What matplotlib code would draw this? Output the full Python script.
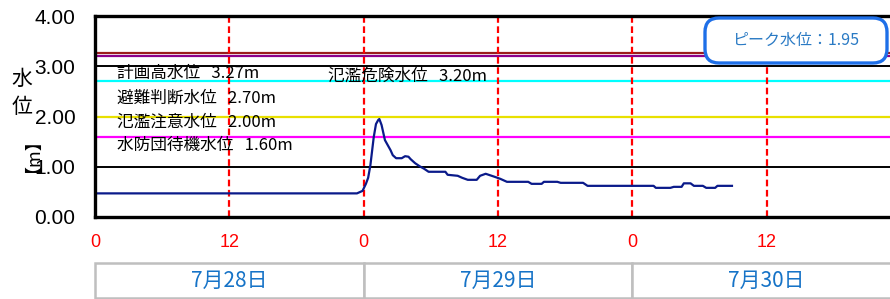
import matplotlib
matplotlib.use("Agg")
import matplotlib.pyplot as plt
import matplotlib.transforms as mtransforms
from matplotlib.patches import FancyBboxPatch, Rectangle
from matplotlib.textpath import TextPath
from matplotlib.font_manager import FontProperties

# water level series (hours since 7/28 0:00, metres)
hours = [0, 23.4, 23.9, 24.2, 24.4, 24.6, 24.9, 25.1, 25.3, 25.4, 25.6, 25.9, 26.4,
         26.6, 26.9, 27.4, 27.7, 28.0, 28.2, 28.6, 29.0, 29.4, 29.8, 31.3, 31.5,
         32.4, 32.8, 33.3, 34.1, 34.4, 34.9, 35.3, 35.7, 36.2, 36.8, 38.7, 39.0,
         39.9, 40.1, 41.3, 41.6, 43.6, 44.0, 49.9, 50.1, 51.4, 51.7, 52.4, 52.6,
         53.2, 53.5, 54.3, 54.6, 55.4, 55.6, 56.9]
level = [0.47, 0.47, 0.52, 0.66, 0.78, 1.03, 1.59, 1.85, 1.93, 1.95, 1.83, 1.53, 1.33,
         1.23, 1.17, 1.17, 1.21, 1.20, 1.15, 1.07, 1.01, 0.96, 0.90, 0.90, 0.84,
         0.82, 0.78, 0.74, 0.74, 0.82, 0.86, 0.83, 0.80, 0.76, 0.70, 0.70, 0.66,
         0.66, 0.70, 0.70, 0.68, 0.68, 0.62, 0.62, 0.58, 0.58, 0.60, 0.60, 0.67,
         0.67, 0.62, 0.62, 0.58, 0.58, 0.62, 0.62]

# reference levels
ref_names = ["計画高水位", "氾濫危険水位", "避難判断水位", "氾濫注意水位", "水防団待機水位"]
ref_values = [3.27, 3.20, 2.70, 2.00, 1.60]
ref_colors = ["#9B1C1C", "#8B008B", "#00FFFF", "#E8E000", "#FF00FF"]
# label anchor (hour, level) for each reference text
ref_label_x = [2.0, 20.8, 2.0, 2.0, 2.0]
ref_label_y = [2.86, 2.81, 2.36, 1.88, 1.42]

peak = 1.95
dates = ["7月28日", "7月29日", "7月30日"]
xticks = [0, 12, 24, 36, 48, 60]
xticklabels = ["0", "12", "0", "12", "0", "12"]
yticks = [0, 1, 2, 3, 4]

JP = ["Noto Sans CJK JP", "DejaVu Sans"]
NUM = ["Liberation Sans", "DejaVu Sans"]

W, H = 890, 299
fig = plt.figure(figsize=(W / 100, H / 100), dpi=100)
ax = fig.add_axes([95 / W, (H - 217) / H, 806 / W, 201 / H])
ax.set_xlim(0, 72)
ax.set_ylim(0, 4)

# grid (black) at each metre
for y in yticks[1:-1]:
    ax.axhline(y, color="black", lw=1.4, zorder=1)

for v, c in zip(ref_values, ref_colors):
    ax.axhline(v, color=c, lw=1.6, zorder=2)

for x in xticks[1:]:
    ax.axvline(x, color="#FF0000", lw=1.6, ls=(0, (3, 1.6)), zorder=3)

for name, v, lx, ly in zip(ref_names, ref_values, ref_label_x, ref_label_y):
    ax.text(lx, ly, f"{name}   {v:.2f}m", family=JP, fontsize=12,
            va="center", ha="left", zorder=4)

ax.plot(hours, level, color="#0A1A8A", lw=1.6, zorder=5)

ax.set_xticks(xticks)
ax.set_xticklabels(xticklabels, color="#FF0000", family=NUM, fontsize=13)
ax.set_yticks(yticks)
ax.set_yticklabels([f"{t:.2f}" for t in yticks], family=NUM, fontsize=15)
ax.tick_params(axis="both", length=0)
ax.tick_params(axis="x", pad=12)
ax.tick_params(axis="y", pad=14)

for side in ["left", "bottom", "top"]:
    ax.spines[side].set_linewidth(2.4)
    ax.spines[side].set_zorder(6)
ax.spines["right"].set_visible(False)

# y label: 水 / 位 upright, then 【m】 turned, centred on its ink
fig.text(22 / W, (H - 79) / H, "水", family=JP, fontsize=15, ha="center", va="center")
fig.text(22 / W, (H - 107) / H, "位", family=JP, fontsize=15, ha="center", va="center")
unit = "【m】"
usize = 13
ink = TextPath((0, 0), unit, prop=FontProperties(family=JP, size=usize)).get_extents()
cx, cy = (ink.x0 + ink.x1) / 2, (ink.y0 + ink.y1) / 2
utr = mtransforms.offset_copy(fig.transFigure, fig, x=cy, y=-cx, units="points")
fig.text(22 / W, (H - 146) / H, unit, family=JP, fontsize=usize, rotation=90,
         rotation_mode="anchor", ha="left", va="baseline", transform=utr)

# peak box
pbox = FancyBboxPatch((7.05, 2.36), 1.82, 0.45,
                      boxstyle="round,pad=0,rounding_size=0.14",
                      transform=fig.dpi_scale_trans, facecolor="white",
                      edgecolor="#1E6FE8", lw=2.4, zorder=10)
fig.add_artist(pbox)
fig.text(7.96 / 8.9, 2.585 / 2.99, f"ピーク水位：{peak:.2f}", family=JP,
         fontsize=11.5, color="#2A7AC4", ha="center", va="center", zorder=11)

# date boxes under the axis
tr = mtransforms.blended_transform_factory(ax.transData, fig.transFigure)
for i, d in enumerate(dates):
    r = Rectangle((24 * i, 1.5 / H), 24, 35 / H, transform=tr, facecolor="white",
                  edgecolor="#BFBFBF", lw=1.8, clip_on=False)
    fig.add_artist(r)
    fig.text(24 * i + 12, (H - 281) / H, d, transform=tr, family=JP, fontsize=15,
             color="#1673C7", ha="center", va="center")

fig.savefig("out.png", dpi=100)
